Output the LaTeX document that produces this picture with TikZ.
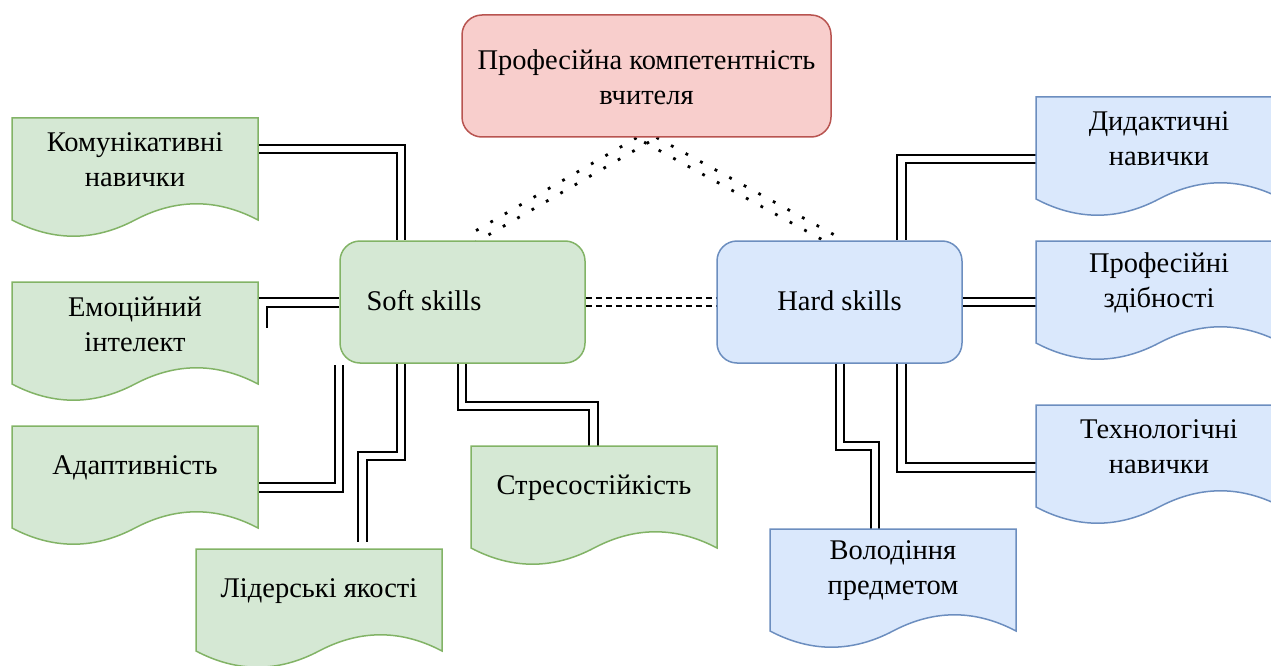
\documentclass[tikz,border=0pt]{standalone}
\usepackage{fontspec}
\usetikzlibrary{calc}
\setmainfont{Liberation Serif}
\definecolor{gfill}{HTML}{D5E8D4}
\definecolor{gdraw}{HTML}{82B366}
\definecolor{bfill}{HTML}{DAE8FC}
\definecolor{bdraw}{HTML}{6C8EBF}
\definecolor{rfill}{HTML}{F8CECC}
\definecolor{rdraw}{HTML}{B85450}
\tikzset{
  txt/.style={align=center, font=\fontsize{28.5}{35}\selectfont, inner sep=0pt},
  rbox/.style={rounded corners=20pt, line width=1.5pt, minimum width=245pt, minimum height=122pt, inner sep=0pt},
  dlink/.style={draw=black, line width=1.8pt, double=white, double distance=6.5pt},
  dotline/.style={draw=black, line width=2.8pt, dash pattern=on 2.8pt off 13.8pt},
  dashlink/.style={dlink, dash pattern=on 6pt off 4pt},
}
\newcommand\docnode[6]{%
  \filldraw[fill=#4, draw=#5, line width=1.5pt] (#2,#3) -- (#2+246,#3) -- (#2+246,#3+102)
    .. controls (#2+205,#3+80.4) and (#2+164,#3+80.4) .. (#2+123,#3+102)
    .. controls (#2+82,#3+123.6) and (#2+41,#3+123.6) .. (#2,#3+102) -- cycle;
  \node[anchor=north west, minimum width=246pt, minimum height=120pt, inner sep=0pt] (#1) at (#2,#3) {};
  \node[txt] (#1-t) at (#2+123,#3+42) {#6};
}
\begin{document}
\begin{tikzpicture}[x=1pt,y=-1pt]
\useasboundingbox (0,0) rectangle (1271,666);
% boxes as anchors (drawn later)
\path (646.5,76) node[rbox, draw=none] (prof) {};
\path (462.5,302) node[rbox, draw=none] (soft) {};
\path (839.5,302) node[rbox, draw=none] (hard) {};
\coordinate (c2) at (262.5,328);
\coordinate (c3) at (339,365);
\coordinate (c4) at (362.5,542);
\coordinate (sl) at (468,241);
\coordinate (hl) at (835,241);
\path (12,118) node[anchor=north west, minimum width=246pt, minimum height=120pt] (komm) {};
\path (12,282) node[anchor=north west, minimum width=246pt, minimum height=120pt] (emo) {};
\path (12,426) node[anchor=north west, minimum width=246pt, minimum height=120pt] (adapt) {};
\path (196,549) node[anchor=north west, minimum width=246pt, minimum height=120pt] (lider) {};
\path (471,446) node[anchor=north west, minimum width=246pt, minimum height=120pt] (stres) {};
\path (1036,97) node[anchor=north west, minimum width=246pt, minimum height=120pt] (didak) {};
\path (1036,241) node[anchor=north west, minimum width=246pt, minimum height=120pt] (profzd) {};
\path (1036,405) node[anchor=north west, minimum width=246pt, minimum height=120pt] (tech) {};
\path (770,529) node[anchor=north west, minimum width=246pt, minimum height=120pt] (volod) {};

% connectors
\draw[dlink] (komm.east |- 0,149) -| (soft.north -| 401,0);
\draw[dlink] (soft.west |- 0,302.5) -| (c2);
\draw[dlink] (c3) |- (adapt.east |- 0,487.5);
\draw[dlink] (soft.south -| 401,0) -- (401,456) -- (362.5,456) -- (c4);
\draw[dlink] (soft.south -| 462,0) -- (462,406) -- (593.5,406) -- (stres.north -| 593.5,0);
\draw[dashlink] (soft.east) -- (hard.west);
\draw[dotline] ($(prof.south)+(2.5,4.3)$) -- ($(sl)+(2.5,4.3)$);
\draw[dotline, dash phase=8pt] ($(prof.south)+(-2.5,-4.3)$) -- ($(sl)+(-2.5,-4.3)$);
\draw[dotline] ($(prof.south)+(-2.4,4.4)$) -- ($(hl)+(-2.4,4.4)$);
\draw[dotline, dash phase=8pt] ($(prof.south)+(2.4,-4.4)$) -- ($(hl)+(2.4,-4.4)$);
\draw[dlink] (hard.north -| 901.5,0) |- (didak.west |- 0,159);
\draw[dlink] (hard.east) -- (profzd.west |- hard.east);
\draw[dlink] (hard.south -| 901.5,0) |- (tech.west |- 0,467.5);
\draw[dlink] (hard.south -| 840,0) -- (840,446) -- (875,446) -- (volod.north -| 875,0);

% visible boxes
\node[rbox, fill=rfill, draw=rdraw, minimum width=369pt] (prof-b) at (646.5,76) {};
\node[txt] (prof-t) at (646.5,77) {Професійна компетентність\\вчителя};
\node[rbox, fill=gfill, draw=gdraw] (soft-b) at (462.5,302) {};
\node[txt] (soft-t) at (424,301) {Soft skills};
\node[rbox, fill=bfill, draw=bdraw] (hard-b) at (839.5,302) {};
\node[txt] (hard-t) at (839.5,301) {Hard skills};

\docnode{komm-d}{12}{118}{gfill}{gdraw}{Комунікативні\\навички}
\docnode{emo-d}{12}{282}{gfill}{gdraw}{Емоційний\\інтелект}
\docnode{adapt-d}{12}{426}{gfill}{gdraw}{Адаптивність}
\docnode{lider-d}{196}{549}{gfill}{gdraw}{Лідерські якості}
\docnode{stres-d}{471}{446}{gfill}{gdraw}{Стресостійкість}
\docnode{didak-d}{1036}{97}{bfill}{bdraw}{Дидактичні\\навички}
\docnode{profzd-d}{1036}{241}{bfill}{bdraw}{Професійні\\здібності}
\docnode{tech-d}{1036}{405}{bfill}{bdraw}{Технологічні\\навички}
\docnode{volod-d}{770}{529}{bfill}{bdraw}{Володіння\\предметом}
\end{tikzpicture}
\end{document}
